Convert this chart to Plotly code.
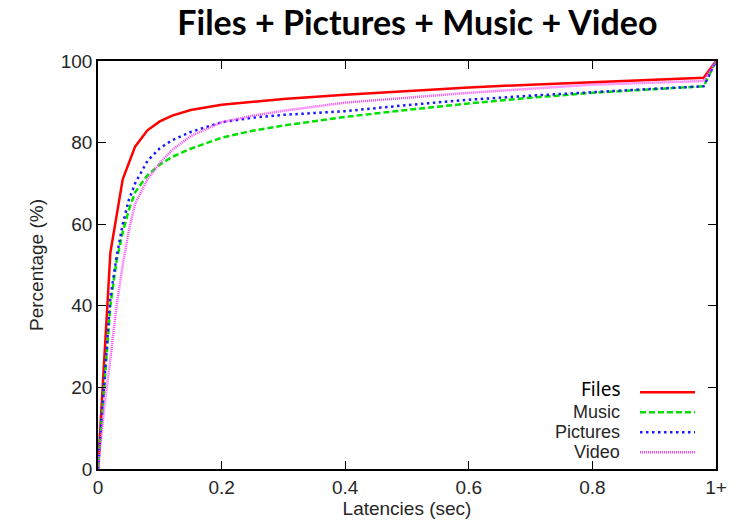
import plotly.graph_objects as go

# ---- data ----
files_x = [0, 0.01, 0.02, 0.04, 0.06, 0.08, 0.10, 0.12, 0.15, 0.20, 0.30, 0.40, 0.50, 0.60, 0.70, 0.80, 0.90, 0.98, 1.0]
files_y = [0, 27, 53, 71, 79, 83, 85.2, 86.6, 88, 89.3, 90.7, 91.7, 92.6, 93.5, 94.2, 94.8, 95.3, 95.9, 100]

music_x = [0, 0.01, 0.02, 0.03, 0.04, 0.05, 0.06, 0.08, 0.10, 0.12, 0.15, 0.20, 0.25, 0.30, 0.40, 0.50, 0.60, 0.70, 0.80, 0.90, 0.98, 1.0]
music_y = [0, 21, 40, 51, 58, 63.5, 67.8, 72, 74.6, 76.5, 78.5, 81.2, 82.9, 84.2, 86.3, 88.0, 89.6, 91.0, 92.2, 93.1, 93.8, 100]

pictures_x = [0, 0.01, 0.02, 0.03, 0.04, 0.05, 0.06, 0.08, 0.10, 0.12, 0.15, 0.20, 0.25, 0.30, 0.40, 0.50, 0.60, 0.70, 0.80, 0.90, 0.98, 1.0]
pictures_y = [0, 22, 42, 52, 60, 66, 70, 75.5, 78.6, 80.6, 82.6, 85.0, 86.1, 86.8, 87.7, 89.2, 90.5, 91.5, 92.4, 93.2, 93.8, 100]

video_x = [0, 0.01, 0.02, 0.03, 0.04, 0.05, 0.06, 0.08, 0.10, 0.12, 0.15, 0.20, 0.25, 0.30, 0.40, 0.50, 0.60, 0.70, 0.80, 0.90, 0.98, 1.0]
video_y = [0, 15, 27, 40, 50, 58.5, 65, 71, 75, 78.2, 81.6, 85.0, 86.6, 87.8, 89.8, 91.0, 92.2, 93.2, 94.2, 94.7, 95.1, 100]

x_tickvals = [0, 0.2, 0.4, 0.6, 0.8, 1.0]
x_ticktext = ["0", "0.2", "0.4", "0.6", "0.8", "1+"]
y_tickvals = [0, 20, 40, 60, 80, 100]

series = [
    ("Files", files_x, files_y, "#ff0000", "solid"),
    ("Music", music_x, music_y, "#00e000", "6px,3px"),
    ("Pictures", pictures_x, pictures_y, "#1a1aff", "2.5px,3.5px"),
    ("Video", video_x, video_y, "#ff40ff", "1px,1px"),
]

ARIAL = "Liberation Sans, Arial, sans-serif"
TXT = "#262626"

fig = go.Figure()
for name, xs, ys, col, dash in series:
    fig.add_trace(go.Scatter(x=xs, y=ys, mode="lines", name=name,
                             line=dict(color=col, width=2.5, dash=dash),
                             showlegend=False))

# custom legend (text right-aligned, sample to the right)
leg_text_y = [0.197, 0.139, 0.090, 0.041]
leg_line_y = [0.188, 0.139, 0.090, 0.041]
for i, (name, xs, ys, col, dash) in enumerate(series):
    if name == "Files":
        font = dict(family="Noto Sans, Open Sans, sans-serif", size=19, color="#000000")
    else:
        font = dict(family=ARIAL, size=18, color=TXT)
    fig.add_annotation(x=0.846, y=leg_text_y[i], xref="paper", yref="paper",
                       text=name, showarrow=False, xanchor="right", yanchor="middle",
                       font=font, borderpad=0)
    fig.add_shape(type="line", xref="paper", yref="paper",
                  x0=0.877, x1=0.966, y0=leg_line_y[i], y1=leg_line_y[i],
                  line=dict(color=col, width=2.5, dash=dash))

axis_common = dict(showgrid=False, zeroline=False, showline=True, linecolor="#000000",
                   linewidth=1.5, mirror="ticks", ticks="inside", ticklen=8,
                   tickcolor="#000000", tickwidth=1.2,
                   tickfont=dict(family=ARIAL, size=19, color=TXT))

fig.update_layout(
    width=748, height=529,
    margin=dict(l=98, r=32, t=61, b=60),
    paper_bgcolor="white", plot_bgcolor="white",
    title=dict(text="<b>Files + Pictures + Music + Video</b>", x=0.558, xanchor="center",
               y=0.957, yanchor="middle",
               font=dict(family="Lato, Open Sans, sans-serif", size=34, color="#000000")),
    xaxis=dict(range=[0, 1], tickvals=x_tickvals, ticktext=x_ticktext,
               title=dict(text="Latencies (sec)", standoff=4,
                          font=dict(family=ARIAL, size=19, color=TXT)),
               **axis_common),
    yaxis=dict(range=[0, 100], tickvals=y_tickvals,
               title=dict(text="Percentage (%)", standoff=12,
                          font=dict(family=ARIAL, size=19, color=TXT)),
               **axis_common),
)

fig.write_html("out.html")
